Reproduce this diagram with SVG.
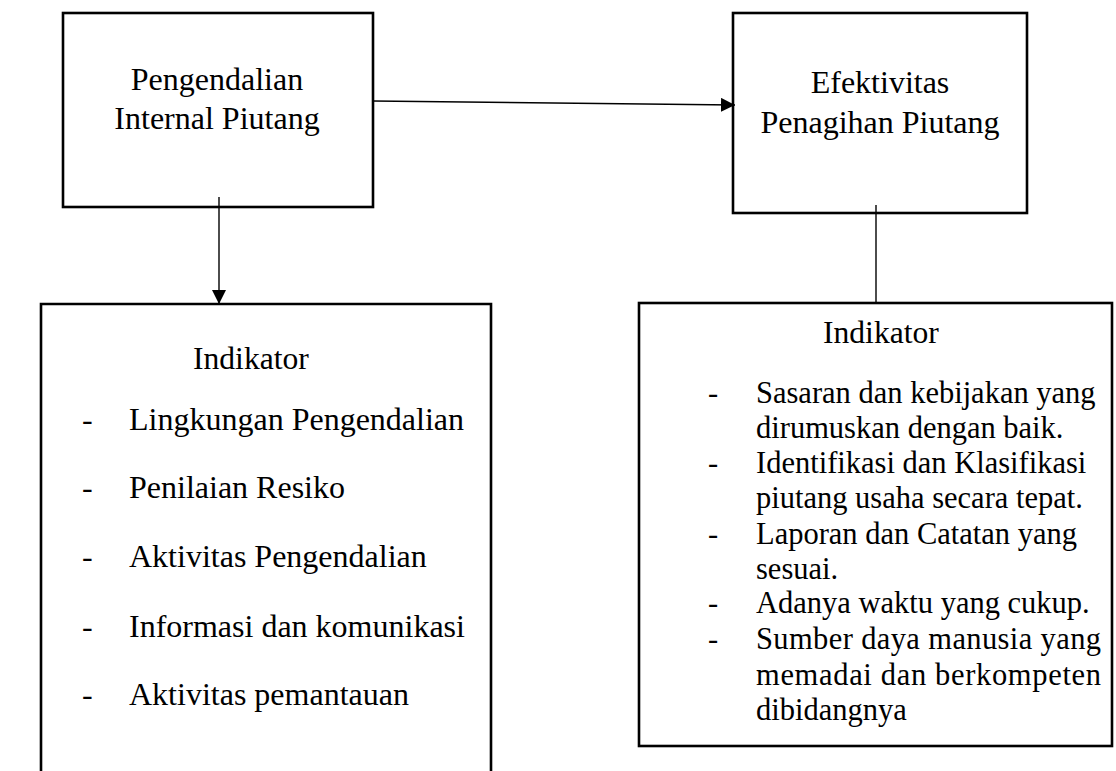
<svg xmlns="http://www.w3.org/2000/svg" width="1116" height="771" viewBox="0 0 1116 771">
<style>
.box{fill:#fff;stroke:#000;stroke-width:2.6}
.t{font-family:"Liberation Serif","Times New Roman",serif;font-size:30.5px;fill:#000}
.b{font-size:32px}
.h{font-size:31.6px}
.m{text-anchor:middle}
.c{stroke:#000;stroke-width:1.4;fill:none}
</style>
<defs>
<marker id="ah" markerWidth="14" markerHeight="14" refX="14" refY="7" orient="auto" markerUnits="userSpaceOnUse">
<path d="M0,0 L14,7 L0,14 Z" fill="#000"/>
</marker>
</defs>
<g id="node-pengendalian">
<rect class="box" x="63" y="13" width="310" height="194"/>
<text class="t b m" x="217" y="90">Pengendalian</text>
<text class="t b m" x="217" y="129">Internal Piutang</text>
</g>
<g id="node-efektivitas">
<rect class="box" x="733" y="13" width="294" height="200"/>
<text class="t b m" x="880" y="93">Efektivitas</text>
<text class="t b m" x="880" y="133">Penagihan Piutang</text>
</g>
<g id="node-indikator-left">
<path class="box" d="M41,780 L41,304 L491,304 L491,780"/>
<text class="t h" x="193" y="369">Indikator</text>
<text class="t b" x="82" y="430">-</text><text class="t b" x="129" y="430">Lingkungan Pengendalian</text>
<text class="t b" x="82" y="498">-</text><text class="t b" x="129" y="498">Penilaian Resiko</text>
<text class="t b" x="82" y="567">-</text><text class="t b" x="129" y="567">Aktivitas Pengendalian</text>
<text class="t b" x="82" y="637">-</text><text class="t b" x="129" y="637">Informasi dan komunikasi</text>
<text class="t b" x="82" y="705">-</text><text class="t b" x="129" y="705">Aktivitas pemantauan</text>
</g>
<g id="node-indikator-right">
<rect class="box" x="639" y="303" width="473" height="443"/>
<text class="t h" x="823" y="343">Indikator</text>
<text class="t" x="708" y="403">-</text><text class="t" x="756" y="403">Sasaran dan kebijakan yang</text>
<text class="t" x="756" y="438">dirumuskan dengan baik.</text>
<text class="t" x="708" y="473">-</text><text class="t" x="756" y="473">Identifikasi dan Klasifikasi</text>
<text class="t" x="756" y="508">piutang usaha secara tepat.</text>
<text class="t" x="708" y="544">-</text><text class="t" x="756" y="544">Laporan dan Catatan yang</text>
<text class="t" x="756" y="579">sesuai.</text>
<text class="t" x="708" y="613">-</text><text class="t" x="756" y="613">Adanya waktu yang cukup.</text>
<text class="t" x="708" y="649">-</text><text class="t" x="756" y="649" textLength="345" lengthAdjust="spacing">Sumber daya manusia yang</text>
<text class="t" x="756" y="685" textLength="345" lengthAdjust="spacing">memadai dan berkompeten</text>
<text class="t" x="756" y="720">dibidangnya</text>
</g>
<g id="connectors">
<line class="c" x1="373" y1="101" x2="735" y2="105" marker-end="url(#ah)"/>
<line class="c" x1="219" y1="197" x2="219" y2="304" marker-end="url(#ah)"/>
<line class="c" x1="876" y1="205" x2="876" y2="303"/>
</g>
</svg>
